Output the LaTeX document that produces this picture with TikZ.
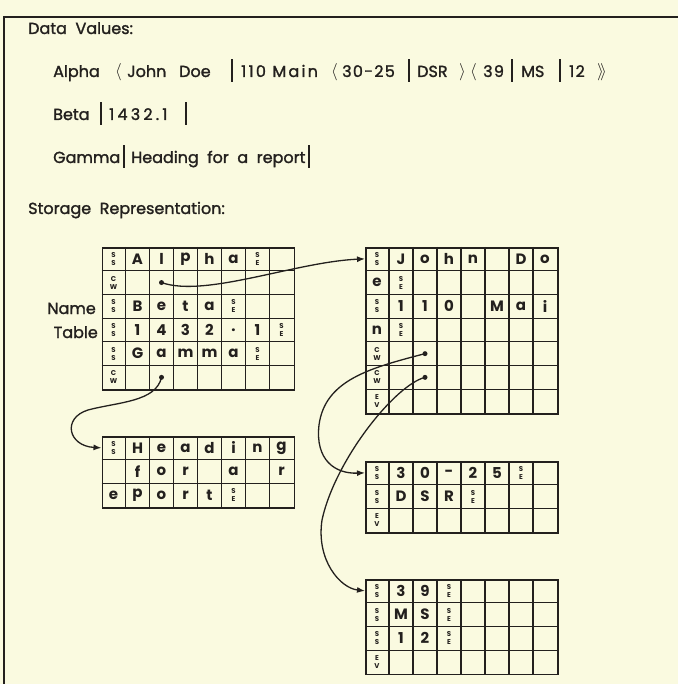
\documentclass[tikz,border=0pt]{standalone}
\usepackage{fontspec}
\setmainfont{Poppins}
\newfontfamily\headfont{Poppins}[FakeBold=1.5]
\usepackage{tikz}
\usetikzlibrary{positioning,calc,arrows.meta}
\definecolor{paper}{RGB}{250,250,224}
\definecolor{ink}{RGB}{35,32,30}
\newcommand{\cellw}{24}
\newcommand{\cellh}{23.7}
% small stacked control marks
\newcommand{\mk}[2]{{\fontsize{7}{6}\selectfont\bfseries\shortstack{#1\\#2}}}
\newcommand{\vb}{\rule[-5pt]{1.4pt}{23pt}}
\newcommand{\seg}[2]{\makebox[#1pt][l]{#2}}
\newcommand{\wide}[2][8]{{\addfontfeatures{LetterSpace=#1}#2}}
\tikzset{
    block/.style={
        draw=ink,
        line width=1.6pt,
        anchor=north west,
        minimum width=192pt,
        inner sep=0pt
    },
    gridline/.style={
        ink,
        line width=1.2pt
    },
    celltext/.style={
        text=ink,
        font=\fontsize{15}{15}\selectfont\bfseries,
        inner sep=0pt
    },
    headtext/.style={
        text=ink,
        font=\headfont\fontsize{16}{18}\selectfont,
        anchor=base west,
        inner sep=0pt
    },
    ptrdot/.style={
        circle,
        fill=ink,
        inner sep=0pt,
        minimum size=5pt
    },
    ptr/.style={
        ink,
        line width=1.3pt,
        -{Latex[length=8pt,width=6pt]}
    }
}
% name, x, y, rows
\newcommand{\memblock}[4]{%
  \node[block, minimum height=#4*\cellh pt] (#1) at (#2,#3) {};
  \foreach \c in {1,...,7}
    \draw[gridline] ($(#1.north west)+(\c*\cellw,0)$) -- ($(#1.south west)+(\c*\cellw,0)$);
  \pgfmathtruncatemacro\lastrow{#4-1}
  \foreach \r in {1,...,\lastrow}
    \draw[gridline] ($(#1.north west)+(0,\r*\cellh)$) -- ($(#1.north east)+(0,\r*\cellh)$);
}
% block, row, entries
\newcommand{\cellrow}[3]{%
  \foreach \t [count=\c from 0] in {#3}
    \node[celltext] (#1-\c-#2) at ($(#1.north west)+(\c*\cellw+0.5*\cellw,#2*\cellh+0.5*\cellh)$) {\t};
}

\begin{document}
\begin{tikzpicture}[x=1pt,y=-1pt]
    \useasboundingbox[fill=paper] (0,0) rectangle (678,684);
    \draw[ink, line width=1.5pt] (4,684) -- (4,17) -- (678,17);

    % Data values
    \node[headtext] (title) at (28,34) {Data\ \ Values:};
    \node[headtext] (alpha) at (53,77) {\seg{62}{Alpha}\seg{12}{$\Big\langle$}\seg{52}{John}\seg{52}{Doe}%
        \seg{10}{\vb}\seg{90}{\wide[14]{110 Main}}\seg{11}{$\Big\langle$}\seg{66}{\wide{30-25}}\seg{9}{\vb}%
        \seg{42}{DSR}\seg{11}{$\Big\rangle$}\seg{13}{$\Big\langle$}\seg{28}{\wide{39}}\seg{10}{\vb}%
        \seg{38}{MS}\seg{10}{\vb}\seg{28}{\wide{12}}$\Big\rangle\mkern-4mu\Big\rangle$};
    \node[headtext] (beta) at (53,120) {\seg{47}{Beta}\seg{9}{\vb}\seg{76}{\wide[20]{1432.1}}\vb};
    \node[headtext] (gamma) at (53,163) {\seg{70}{Gamma}\seg{8}{\vb}Heading\ \ for\ \ a\ \ report\,\vb};
    \node[headtext] (storage) at (28,214) {Storage\ \ Representation:};

    % Name table
    \memblock{nametab}{101.5}{247}{6}
    \node[headtext, anchor=base east] (name) at (96,314) {Name};
    \node[headtext, anchor=base east] (table) at (98,338) {Table};
    \cellrow{nametab}{0}{\mk{S}{S},A,l,p,h,a,\mk{S}{E}}
    \cellrow{nametab}{1}{\mk{C}{W}}
    \cellrow{nametab}{2}{\mk{S}{S},B,e,t,a,\mk{S}{E}}
    \cellrow{nametab}{3}{\mk{S}{S},1,4,3,2,.,1,\mk{S}{E}}
    \cellrow{nametab}{4}{\mk{S}{S},G,a,m,m,a,\mk{S}{E}}
    \cellrow{nametab}{5}{\mk{C}{W}}
    \node[ptrdot] (ptrA) at ($(nametab.north west)+(2.5*\cellw,1.5*\cellh)$) {};
    \node[ptrdot] (ptrB) at ($(nametab.north west)+(2.5*\cellw,5.5*\cellh)$) {};

    % Alpha record
    \memblock{john}{365}{247}{7}
    \cellrow{john}{0}{\mk{S}{S},J,o,h,n,{},D,o}
    \cellrow{john}{1}{e,\mk{S}{E}}
    \cellrow{john}{2}{\mk{S}{S},1,1,0,{},M,a,i}
    \cellrow{john}{3}{n,\mk{S}{E}}
    \cellrow{john}{4}{\mk{C}{W}}
    \cellrow{john}{5}{\mk{C}{W}}
    \cellrow{john}{6}{\mk{E}{V}}
    \node[ptrdot] (ptrC) at ($(john.north west)+(2.5*\cellw,4.5*\cellh)$) {};
    \node[ptrdot] (ptrD) at ($(john.north west)+(2.5*\cellw,5.5*\cellh)$) {};

    % Gamma string
    \memblock{heading}{101.5}{436}{3}
    \cellrow{heading}{0}{\mk{S}{S},H,e,a,d,i,n,g}
    \cellrow{heading}{1}{{},f,o,r,{},a,{},r}
    \cellrow{heading}{2}{e,p,o,r,t,\mk{S}{E}}

    % Sub-records
    \memblock{dsr}{365}{461}{3}
    \cellrow{dsr}{0}{\mk{S}{S},3,0,-,2,5,\mk{S}{E}}
    \cellrow{dsr}{1}{\mk{S}{S},D,S,R,\mk{S}{E}}
    \cellrow{dsr}{2}{\mk{E}{V}}

    \memblock{ms}{365}{579}{4}
    \cellrow{ms}{0}{\mk{S}{S},3,9,\mk{S}{E}}
    \cellrow{ms}{1}{\mk{S}{S},M,S,\mk{S}{E}}
    \cellrow{ms}{2}{\mk{S}{S},1,2,\mk{S}{E}}
    \cellrow{ms}{3}{\mk{E}{V}}

    % Pointers
    \coordinate (john-in) at ($(john.north west)+(0,0.5*\cellh)$);
    \coordinate (heading-in) at ($(heading.north west)+(0,0.5*\cellh)$);
    \coordinate (dsr-in) at ($(dsr.north west)+(0,0.5*\cellh)$);
    \coordinate (ms-in) at ($(ms.north west)+(0,0.5*\cellh)$);
    \draw[ptr] (ptrA.center) .. controls (205,298) and (295,262) .. (john-in);
    \draw[ptr] (ptrB.center) .. controls (156,402) and (118,402) .. (88,410)
        .. controls (62,418) and (68,446) .. (heading-in);
    \draw[ptr] (ptrC.center) .. controls (370,368) and (325,380) .. (319,425)
        .. controls (315,460) and (335,474) .. (dsr-in);
    \draw[ptr] (ptrD.center) .. controls (395,385) and (335,460) .. (322,520)
        .. controls (316,560) and (340,588) .. (ms-in);
\end{tikzpicture}
\end{document}
